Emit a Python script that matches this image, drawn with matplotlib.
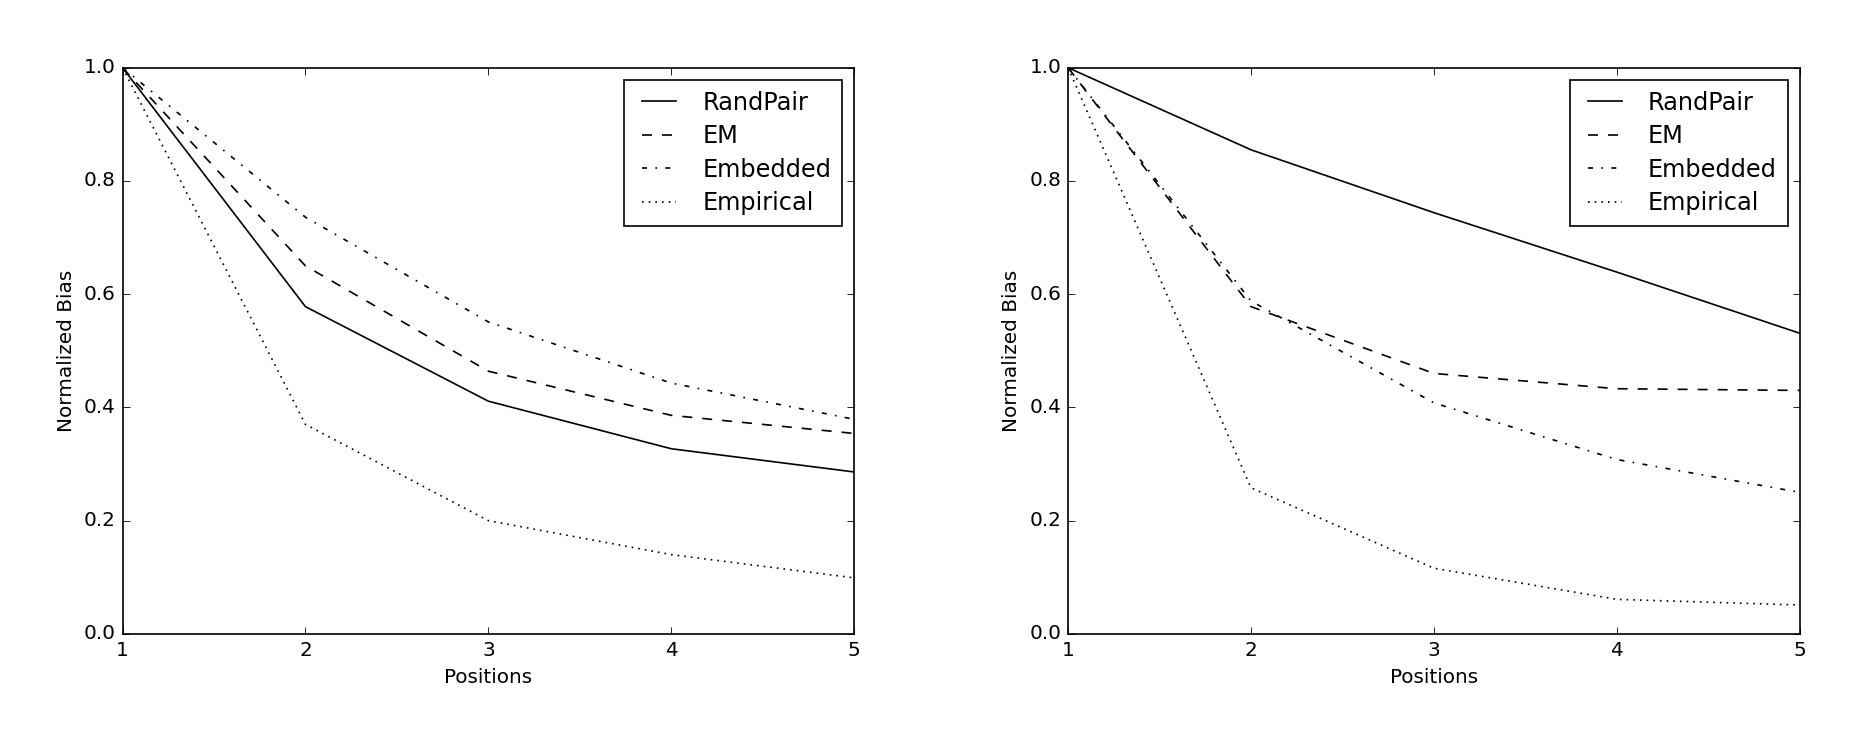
import numpy as np
import matplotlib
matplotlib.use('Agg')
import matplotlib.pyplot as plt

positions = [1, 2, 3, 4, 5]
methods = ['RandPair', 'EM', 'Embedded', 'Empirical']
styles = ['-', '--', '-.', ':']

# left panel
left_randpair = [1.0, 0.578, 0.411, 0.327, 0.286]
left_em = [1.0, 0.650, 0.464, 0.386, 0.354]
left_embedded = [1.0, 0.736, 0.551, 0.443, 0.379]
left_empirical = [1.0, 0.370, 0.200, 0.140, 0.099]

# right panel
right_randpair = [1.0, 0.855, 0.744, 0.639, 0.531]
right_em = [1.0, 0.578, 0.460, 0.433, 0.430]
right_embedded = [1.0, 0.588, 0.408, 0.308, 0.250]
right_empirical = [1.0, 0.258, 0.116, 0.061, 0.051]

plt.style.use('classic')
fig = plt.figure(figsize=(1865 / 120, 744 / 120), dpi=120)

panels = [
    ([0.0657, 0.148, 0.3923, 0.761], [left_randpair, left_em, left_embedded, left_empirical]),
    ([0.5727, 0.148, 0.3923, 0.761], [right_randpair, right_em, right_embedded, right_empirical]),
]

for rect, series in panels:
    ax = fig.add_axes(rect)
    for name, ls, vals in zip(methods, styles, series):
        ax.plot(positions, vals, color='k', linestyle=ls, linewidth=1, label=name)
    ax.set_xlim(1, 5)
    ax.set_ylim(0, 1)
    ax.set_xticks(positions)
    ax.set_yticks(np.arange(0, 1.01, 0.2))
    ax.set_xlabel('Positions')
    ax.set_ylabel('Normalized Bias')
    ax.legend(loc='upper right', labelspacing=0.4, borderpad=0.45)

fig.savefig('out.png', dpi=120)
